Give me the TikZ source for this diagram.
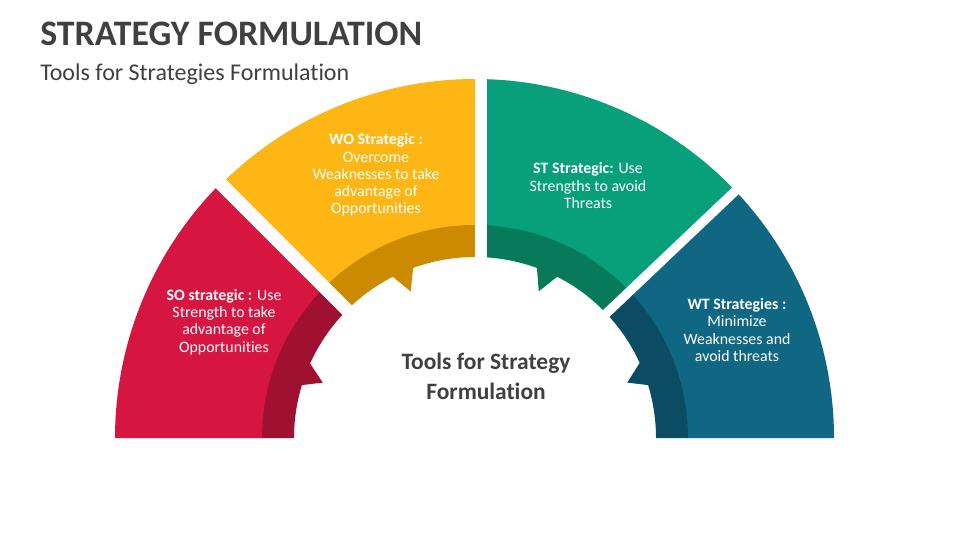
\documentclass[tikz,border=0pt]{standalone}
\usepackage{fontspec}
\setmainfont{Carlito}[Ligatures=NoCommon]
\definecolor{redL}{HTML}{D61640}
\definecolor{redD}{HTML}{A01030}
\definecolor{yelL}{HTML}{FDB614}
\definecolor{yelD}{HTML}{CC8A00}
\definecolor{grnL}{HTML}{07A07A}
\definecolor{grnD}{HTML}{077A5A}
\definecolor{bluL}{HTML}{0F6784}
\definecolor{bluD}{HTML}{0C4C62}
\definecolor{txtgray}{HTML}{404040}
\begin{document}
\begin{tikzpicture}[x=0.75pt,y=0.75pt,
  seglabel/.style={text=white, align=center, inner sep=0pt, font=\fontsize{11.9}{12.9}\selectfont},
  gapline/.style={white, line width=9.5pt}]
\useasboundingbox (0,0) rectangle (960,540);
\fill[white] (0,0) rectangle (960,540);
% title
\node[anchor=base west, inner sep=0pt, text=txtgray, font=\fontsize{26.9}{30}\selectfont\bfseries] (title) at (40,494) {STRATEGY FORMULATION};
\node[anchor=base west, inner sep=0pt, text=txtgray, font=\fontsize{18}{20}\selectfont] (subtitle) at (40,459) {Tools for Strategies Formulation};
\begin{scope}[shift={(475,102)}]
  % light sectors
  \fill[redL] (180:360) arc[start angle=180,end angle=135,radius=360] -- (135:212) arc[start angle=135,end angle=180,radius=212] -- cycle;
  \fill[yelL] (135:359) arc[start angle=135,end angle=90,radius=359] -- (90:212) arc[start angle=90,end angle=135,radius=212] -- cycle;
  \fill[grnL] (90:359) arc[start angle=90,end angle=43.5,radius=359] -- (43.5:212) arc[start angle=43.5,end angle=90,radius=212] -- cycle;
  \fill[bluL] (43.5:359) arc[start angle=43.5,end angle=0,radius=359] -- (0:212) arc[start angle=0,end angle=43.5,radius=212] -- cycle;
  % dark bands with notches
  \fill[redD] (180:213) arc[start angle=180,end angle=135,radius=213] -- (135:181) arc[start angle=135,end angle=155.7,radius=181] -- (160:162) -- (163:181) arc[start angle=163,end angle=180,radius=181] -- cycle;
  \fill[yelD] (135:213) arc[start angle=135,end angle=90,radius=213] -- (90:181) arc[start angle=90,end angle=110,radius=181] -- (113.7:160) -- (117:181) arc[start angle=117,end angle=135,radius=181] -- cycle;
  \fill[grnD] (90:213) arc[start angle=90,end angle=43.5,radius=213] -- (43.5:181) arc[start angle=43.5,end angle=63,radius=181] -- (66.5:160) -- (70:181) arc[start angle=70,end angle=90,radius=181] -- cycle;
  \fill[bluD] (43.5:213) arc[start angle=43.5,end angle=0,radius=213] -- (0:181) arc[start angle=0,end angle=17,radius=181] -- (20:162) -- (24.5:181) arc[start angle=24.5,end angle=43.5,radius=181] -- cycle;
  % gaps
  \coordinate (g1a) at (135:140);
  \coordinate (g1b) at (135:375);
  \coordinate (g2a) at (6,140);
  \coordinate (g2b) at (6,375);
  \coordinate (g3a) at (43.5:140);
  \coordinate (g3b) at (43.5:375);
  \draw[gapline, line width=10pt] (g1a) -- (g1b);
  \draw[gapline, line width=9pt] (g2a) -- (g2b);
  \draw[gapline, line width=7pt] (g3a) -- (g3b);
\end{scope}
% segment labels
\node[seglabel] (so) at (224,218) {\textbf{SO strategic :} Use\\Strength to take\\advantage of\\Opportunities};
\node[seglabel] (wo) at (376,365) {\textbf{WO Strategic :}\\Overcome\\Weaknesses to take\\advantage of\\Opportunities};
\node[seglabel] (st) at (588,354.5) {\textbf{ST Strategic:} Use\\Strengths to avoid\\Threats};
\node[seglabel] (wt) at (737,210) {\textbf{WT Strategies :}\\Minimize\\Weaknesses and\\avoid threats};
% centre label
\node[text=txtgray, align=center, inner sep=0pt, font=\fontsize{17.6}{22.5}\selectfont\bfseries] (centre) at (486,164) {Tools for Strategy\\Formulation};
\end{tikzpicture}
\end{document}
